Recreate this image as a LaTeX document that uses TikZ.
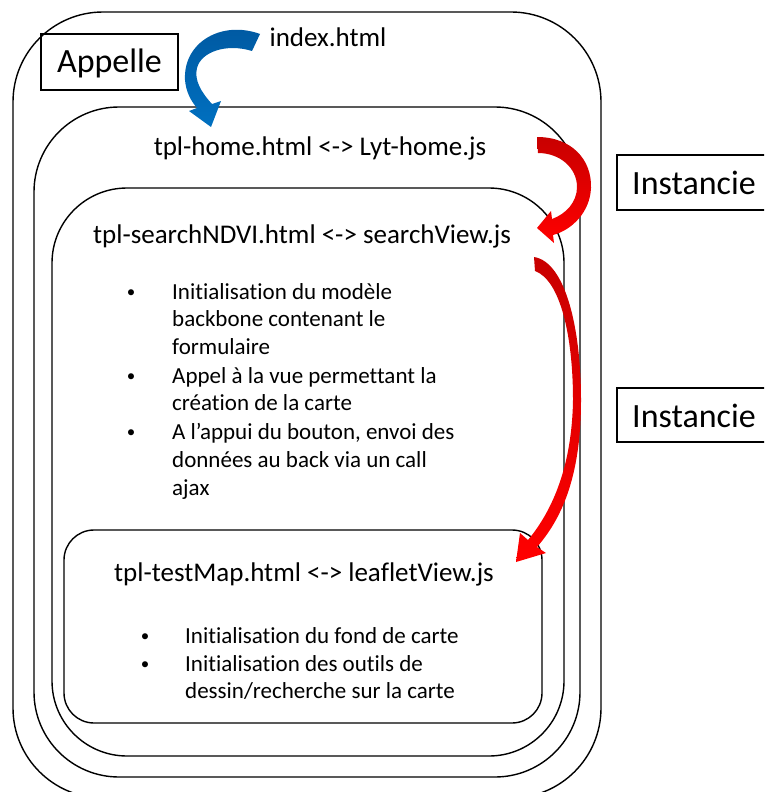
\documentclass[tikz,border=0pt]{standalone}
\usepackage{fontspec}
\setmainfont[Ligatures={NoCommon}]{Carlito}
\definecolor{arrblue}{RGB}{0,112,192}
\definecolor{arrbluedark}{RGB}{0,88,160}
\definecolor{arrred}{RGB}{255,0,0}
\definecolor{arrreddark}{RGB}{200,0,0}
\begin{document}
\begin{tikzpicture}[x=1pt,y=-1pt,
  frame/.style={draw=black,line width=1.4pt},
  tagbox/.style={draw=black,line width=1.1pt},
  tagtext/.style={font=\fontsize{34}{40}\selectfont,inner sep=0pt},
  title/.style={font=\fontsize{27}{32}\selectfont,inner sep=0pt},
  bulletmark/.style={font=\fontsize{17}{20}\selectfont,inner sep=0pt,anchor=base},
  item/.style={font=\fontsize{23}{27.8}\selectfont,inner sep=0pt,anchor=north west,align=left},
  bluearrow/.style={top color=arrbluedark,bottom color=arrblue,draw=none},
  redarrow/.style={top color=arrreddark,middle color=arrred,bottom color=arrred,draw=none}]
\useasboundingbox (0,0) rectangle (764,792);
\begin{scope}
\clip (0,0) rectangle (764,792);
% nested rounded frames
\draw[frame,rounded corners=90pt] (13,12) rectangle (601,798);
\draw[frame,rounded corners=85pt] (34,107) rectangle (580,777);
\draw[frame,rounded corners=75pt] (52,188) rectangle (564,756);
\draw[frame,rounded corners=30pt] (64,530) rectangle (542,723);
% label boxes
\draw[tagbox] (41,34) rectangle (178,90);
\node[tagtext] (appelle) at (109.5,63) {Appelle};
\draw[tagbox] (617,155) rectangle (790,210);
\node[tagtext,anchor=west] (inst1) at (632,183) {Instancie};
\draw[tagbox] (617,388) rectangle (790,442);
\node[tagtext,anchor=west] (inst2) at (632,416) {Instancie};
\end{scope}
% titles
\node[title] (index) at (328,37) {index.html};
\node[title] (home) at (320,148) {tpl-home.html <-> Lyt-home.js};
\node[title] (search) at (302,236) {tpl-searchNDVI.html <-> searchView.js};
\node[title] (map) at (304,574) {tpl-testMap.html <-> leafletView.js};
% bullets of searchView
\node[bulletmark] (b1) at (131,297) {•};
\node[item] (i1) at (172,283) {Initialisation du modèle\\backbone contenant le\\formulaire};
\node[bulletmark] (b2) at (131,381) {•};
\node[item] (i2) at (172,367) {Appel à la vue permettant la\\création de la carte};
\node[bulletmark] (b3) at (131,437) {•};
\node[item] (i3) at (172,423) {A l’appui du bouton, envoi des\\données au back via un call\\ajax};
% bullets of leafletView
\node[bulletmark] (b4) at (145,641) {•};
\node[item] (i4) at (185,627) {Initialisation du fond de carte};
\node[bulletmark] (b5) at (145,669) {•};
\node[item] (i5) at (185,655) {Initialisation des outils de\\dessin/recherche sur la carte};
% blue curved arrow (Appelle)
\path[bluearrow] (260,34) .. controls (222,20) and (183,42) .. (185,80)
  .. controls (186,92) and (191,101) .. (197,108) -- (189,111) -- (211,127) -- (221,101) -- (212,104)
  .. controls (201,92) and (194,80) .. (197,68) .. controls (201,52) and (226,43) .. (252,51) -- cycle;
% red arrow 1 (home -> search)
\path[redarrow] (537,137) .. controls (572,137) and (592,160) .. (591,188)
  .. controls (590,212) and (572,230) .. (553,235) -- (554,243) -- (537,228) -- (551,211) -- (552,219)
  .. controls (566,214) and (577,202) .. (577,187) .. controls (577,168) and (560,153) .. (538,153) -- cycle;
% red arrow 2 (search -> map)
\path[redarrow] (534,257) .. controls (566,262) and (581,330) .. (581,400)
  .. controls (581,470) and (565,515) .. (537,547) -- (546,553) -- (516,562) -- (520,533) -- (528,540)
  .. controls (553,510) and (572,465) .. (573,400) .. controls (573,335) and (560,280) .. (535,271) -- cycle;
\end{tikzpicture}
\end{document}
